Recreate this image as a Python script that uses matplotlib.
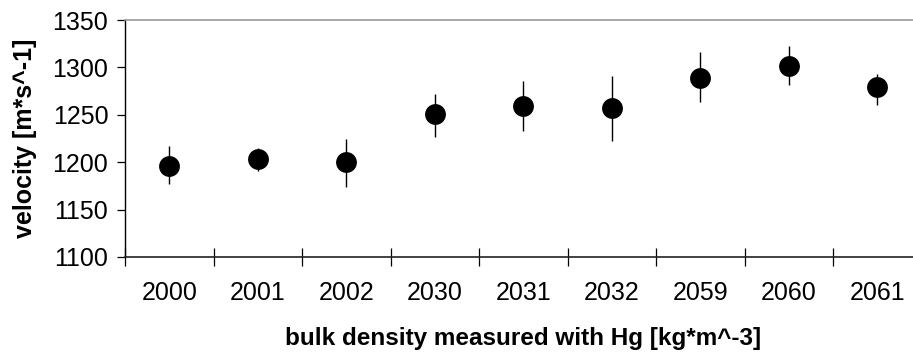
import matplotlib
matplotlib.use("Agg")
import matplotlib.pyplot as plt
import numpy as np

categories = ["2000", "2001", "2002", "2030", "2031", "2032", "2059", "2060", "2061"]
velocity = [1196, 1203, 1200, 1251, 1259, 1257, 1289, 1302, 1279]
err_low = [19, 12, 26, 24, 26, 35, 26, 21, 19]
err_high = [21, 12, 25, 21, 27, 34, 27, 21, 14]
yticks = [1100, 1150, 1200, 1250, 1300, 1350]

plt.rcParams['font.family'] = ['Liberation Sans', 'DejaVu Sans']

W, H = 913, 356
fig = plt.figure(figsize=(W / 100, H / 100), dpi=100)
left, top, bottom = 125, 20, 257
step = 88.5
ax = fig.add_axes([left / W, (H - bottom) / H, 9 * step / W, (bottom - top) / H])

x = np.arange(len(categories))
ax.errorbar(x, velocity, yerr=[err_low, err_high], fmt='o', color='black',
            ecolor='black', elinewidth=1.0, capsize=0, markersize=15,
            markeredgewidth=0, zorder=3)

ax.set_xlim(-0.5, len(categories) - 0.5)
ax.set_ylim(1100, 1350)
ax.set_yticks(yticks)
ax.set_yticklabels([str(v) for v in yticks])
ax.set_xticks(x)
ax.set_xticklabels(categories)
ax.set_xticks(np.arange(-0.5, len(categories)), minor=True)

ax.tick_params(axis='x', which='major', length=0, pad=17, labelsize=18)
ax.tick_params(axis='x', which='minor', direction='inout', length=12.5, width=0.9, color='black')
ax.tick_params(axis='y', which='major', direction='out', length=6, width=0.9, pad=6, labelsize=18)

ax.spines['right'].set_visible(False)
ax.spines['top'].set_color('#999999')
ax.spines['top'].set_linewidth(1.2)
ax.spines['left'].set_linewidth(1.0)
ax.spines['bottom'].set_linewidth(1.2)
ax.spines['bottom'].set_color('#222222')

ax.set_xlabel("bulk density measured with Hg [kg*m^-3]", fontsize=17.5, fontweight='bold', labelpad=16)
ax.set_ylabel("velocity [m*s^-1]", fontsize=18, fontweight='bold', labelpad=11)

fig.savefig("out.png", dpi=100)
